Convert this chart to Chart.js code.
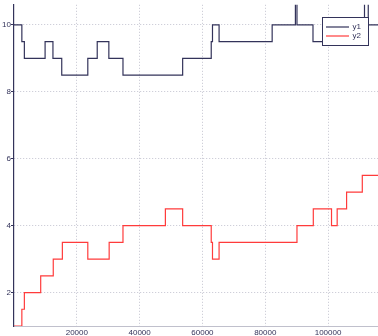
<!DOCTYPE html>
<html>
<head>
<meta charset="utf-8">
<script src="https://cdn.jsdelivr.net/npm/chart.js@4/dist/chart.umd.min.js"></script>
<style>
  body { margin: 0; background: #fff; }
  canvas { display: block; }
</style>
</head>
<body>
<canvas id="plot" width="378" height="336"></canvas>
<script>
// step series, x values in units (value holds from x until next x)
var y1X = [0, 2500, 3300, 9900, 12400, 15200, 23500, 26500, 30200, 34700, 53700, 62800, 63200, 65300, 82200, 89600, 90100, 95200, 111600, 112800, 115900];
var y1Y = [10, 9.5, 9, 9.5, 9, 8.5, 9, 9.5, 9, 8.5, 9, 9.5, 10, 9.5, 10, 11, 10, 9.5, 11, 10, 10];

var y2X = [0, 2500, 3300, 8500, 12500, 15400, 23500, 30300, 34700, 48200, 53700, 62800, 63200, 65300, 90100, 95300, 101100, 102900, 105900, 110900, 115900];
var y2Y = [1, 1.5, 2, 2.5, 3, 3.5, 3, 3.5, 4, 4.5, 4, 3.5, 3, 3.5, 4, 4.5, 4, 4.5, 5, 5.5, 5.5];

var xTicks = [20000, 40000, 60000, 80000, 100000];
var yTicks = [2, 4, 6, 8, 10];

var navy = "#33335a";
var red = "#ff3b3b";

var toPoints = function (xs, ys) {
  return xs.map(function (x, i) { return { x: x, y: ys[i] }; });
};

var boxLegend = {
  id: "boxLegend",
  afterDraw: function (chart) {
    var ctx = chart.ctx;
    var left = 322.5, top = 17.5, w = 46, h = 28;
    ctx.save();
    ctx.fillStyle = "#fff";
    ctx.fillRect(left, top, w, h);
    ctx.strokeStyle = navy;
    ctx.lineWidth = 1;
    ctx.strokeRect(left, top, w, h);
    ctx.font = "8px 'Liberation Sans', Arial, sans-serif";
    ctx.textBaseline = "middle";
    chart.data.datasets.forEach(function (ds, i) {
      var y = 27 + i * 9;
      ctx.strokeStyle = ds.borderColor;
      ctx.lineWidth = 1.2;
      ctx.beginPath();
      ctx.moveTo(326, y);
      ctx.lineTo(349, y);
      ctx.stroke();
      ctx.fillStyle = navy;
      ctx.fillText(ds.label, 352.5, y);
    });
    ctx.restore();
  }
};

var context = document.getElementById("plot").getContext("2d");
var chart = new Chart(context, {
  type: "line",
  data: {
    datasets: [
      { label: "y1", data: toPoints(y1X, y1Y), borderColor: navy, borderWidth: 1.2, stepped: "before", pointRadius: 0, fill: false },
      { label: "y2", data: toPoints(y2X, y2Y), borderColor: red, borderWidth: 1.2, stepped: "before", pointRadius: 0, fill: false }
    ]
  },
  options: {
    responsive: false,
    animation: false,
    layout: { padding: 0 },
    plugins: { legend: { display: false }, tooltip: { enabled: false } },
    scales: {
      x: {
        type: "linear",
        min: 0,
        max: 115900,
        afterBuildTicks: function (s) { s.ticks = xTicks.map(function (v) { return { value: v }; }); },
        afterFit: function (s) { s.height = 10; },
        grid: { color: "#c4c4d0", drawTicks: false },
        border: { color: "#c0c0cc", width: 1, dash: [1, 2] },
        ticks: {
          color: navy, padding: 2, maxRotation: 0, autoSkip: false,
          font: { size: 8, family: "'Liberation Sans', Arial, sans-serif" },
          callback: function (v) { return String(v); }
        }
      },
      y: {
        type: "linear",
        min: 1,
        max: 10.6,
        afterBuildTicks: function (s) { s.ticks = yTicks.map(function (v) { return { value: v }; }); },
        afterFit: function (s) { s.width = 14; },
        grid: { color: "#c4c4d0", tickColor: navy, tickLength: 3 },
        border: { color: navy, width: 1.2, dash: [1, 2] },
        ticks: {
          color: navy, padding: 0,
          font: { size: 8, family: "'Liberation Sans', Arial, sans-serif" },
          callback: function (v) { return String(v); }
        }
      }
    }
  },
  plugins: [boxLegend]
});
</script>
</body>
</html>
